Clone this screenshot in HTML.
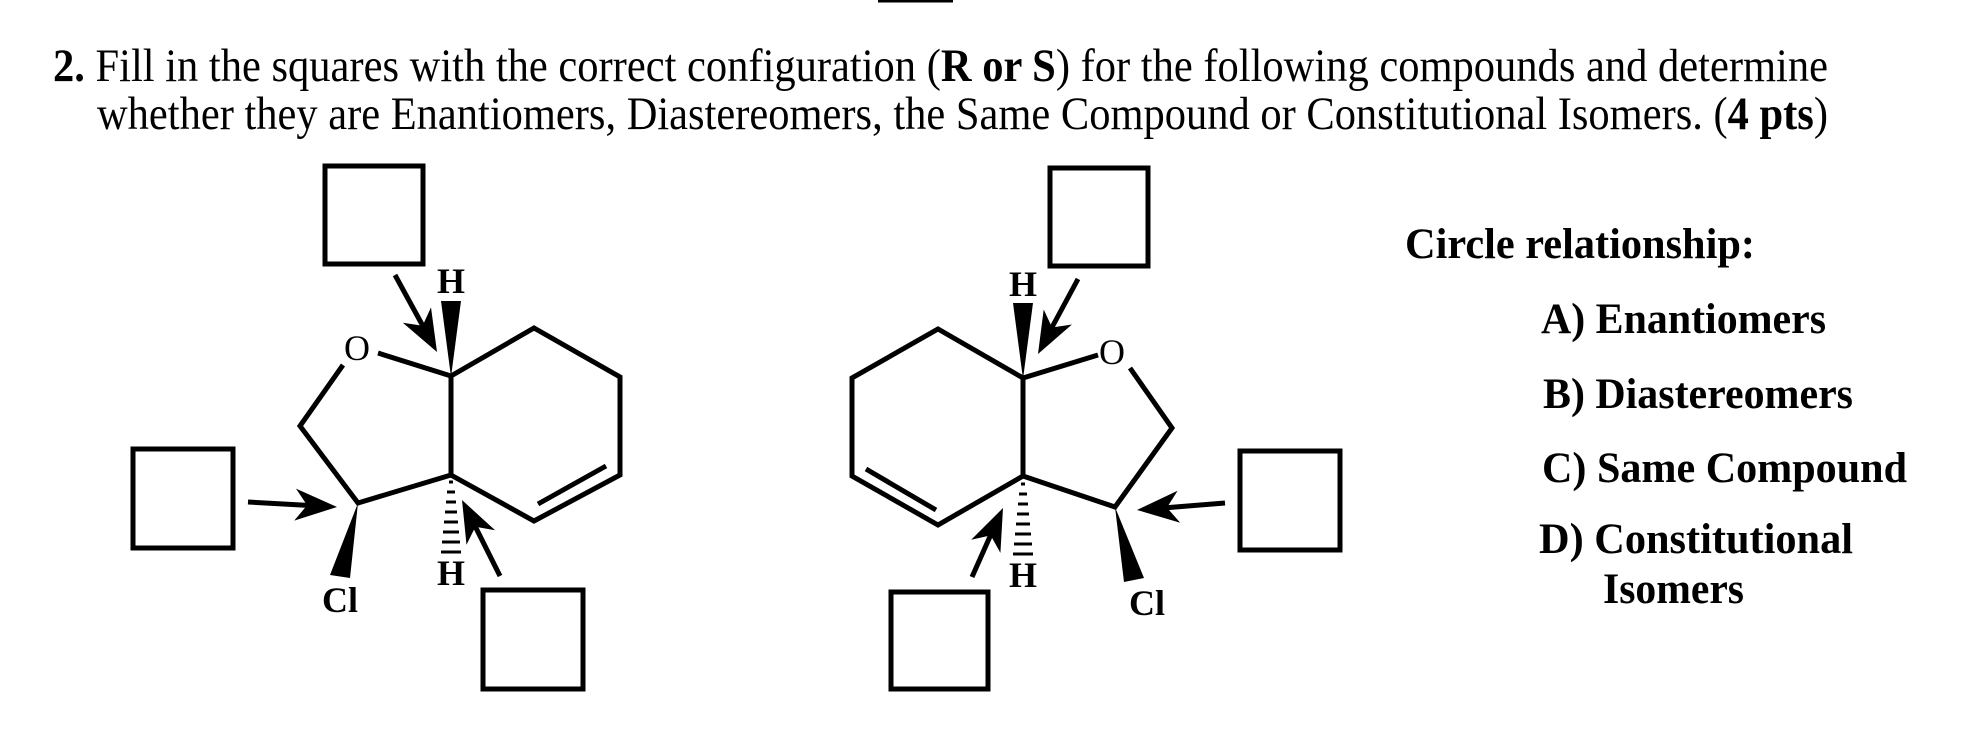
<!DOCTYPE html>
<html><head><meta charset="utf-8"><style>
html,body{margin:0;padding:0;background:#fff;}
svg{display:block;}
text{font-family:"Liberation Serif",serif;fill:#000;}
</style></head><body>
<svg width="1962" height="748" viewBox="0 0 1962 748" xmlns="http://www.w3.org/2000/svg">
<line x1="878" y1="1" x2="953" y2="1" stroke="#000" stroke-width="3"/>
<text x="53" y="81" font-size="47" textLength="1775" lengthAdjust="spacingAndGlyphs"><tspan font-weight="bold">2.</tspan> Fill in the squares with the correct configuration (<tspan font-weight="bold">R or S</tspan>) for the following compounds and determine</text>
<text x="97" y="129" font-size="47" textLength="1731" lengthAdjust="spacingAndGlyphs">whether they are Enantiomers, Diastereomers, the Same Compound or Constitutional Isomers. (<tspan font-weight="bold">4 pts</tspan>)</text>

<g fill="none" stroke="#000" stroke-width="5" stroke-linejoin="miter">
<rect x="325" y="166" width="98" height="98"/>
<rect x="133" y="449" width="100" height="99"/>
<rect x="483" y="590" width="100" height="99"/>
<rect x="1050" y="168" width="98" height="98"/>
<rect x="1240" y="451" width="100" height="99"/>
<rect x="891" y="592" width="97" height="97"/>
<polyline points="451,376 534,328 620,377 620,475 534,521 451,475 451,376"/>
<line x1="606" y1="466" x2="538" y2="504"/>
<polyline points="378,353 451,376"/>
<polyline points="343,365 300,426 358,503 451,475"/>
<polyline points="1023,378 938,329 852,378 852,476 938,525 1023,476 1023,378"/>
<line x1="866" y1="469" x2="936" y2="510"/>
<polyline points="1098,355 1023,378"/>
<polyline points="1130,368 1172,428 1115,507 1023,476"/>
</g>
<g fill="none" stroke="#000" stroke-width="5" stroke-linecap="butt">
<line x1="395" y1="275" x2="424" y2="328"/>
<line x1="248" y1="502" x2="310" y2="505.5"/>
<line x1="500" y1="576" x2="474" y2="524"/>
<line x1="1078" y1="279" x2="1050" y2="331"/>
<line x1="1225" y1="503" x2="1163" y2="508"/>
<line x1="972" y1="577" x2="992" y2="532"/>
</g>
<g fill="#000">
<polygon points="437,352 402.8,322.8 422.6,325.7 431,307.4"/>
<polygon points="337,507 294.2,520.6 307.1,505.3 296,488.6"/>
<polygon points="462,500 495.1,530.3 475.4,526.8 466.5,544.7"/>
<polygon points="1038,354 1043.7,309.5 1052.1,327.5 1071.9,324.5"/>
<polygon points="1137,510 1177.6,490.7 1166.9,507.6 1180.2,522.7"/>
<polygon points="1003,508 1000.4,552.9 990.7,535.4 971.2,539.7"/>
<polygon points="451,377 441,301 461,301"/>
<polygon points="1023,379 1013,303 1033,303"/>
<polygon points="358,503 330,575 350,578"/>
<polygon points="1115,507 1124,582 1144,578"/>
</g>
<g stroke="#000" stroke-width="3">
<line x1="449" y1="482" x2="453" y2="482"/>
<line x1="447" y1="492" x2="455" y2="492"/>
<line x1="446" y1="502" x2="456" y2="502"/>
<line x1="445" y1="512" x2="457" y2="512"/>
<line x1="444" y1="522" x2="458" y2="522"/>
<line x1="443" y1="532" x2="459" y2="532"/>
<line x1="442" y1="542" x2="460" y2="542"/>
<line x1="441" y1="552" x2="461" y2="552"/>
<line x1="1021" y1="484" x2="1025" y2="484"/>
<line x1="1019" y1="494" x2="1027" y2="494"/>
<line x1="1018" y1="504" x2="1028" y2="504"/>
<line x1="1017" y1="514" x2="1029" y2="514"/>
<line x1="1016" y1="524" x2="1030" y2="524"/>
<line x1="1015" y1="534" x2="1031" y2="534"/>
<line x1="1014" y1="544" x2="1032" y2="544"/>
<line x1="1013" y1="554" x2="1033" y2="554"/>
</g>
<g font-size="36" font-weight="bold" text-anchor="middle">
<text x="451" y="293">H</text>
<text x="451" y="585">H</text>
<text x="340" y="612">Cl</text>
<text x="1023" y="296">H</text>
<text x="1023" y="587">H</text>
<text x="1147" y="615">Cl</text>
</g>
<g font-size="36" text-anchor="middle">
<text x="357" y="360">O</text>
<text x="1112" y="364">O</text>
</g>
<g font-size="43" font-weight="bold">
<text x="1405" y="258" textLength="350" lengthAdjust="spacingAndGlyphs">Circle relationship:</text>
<text x="1541" y="333" textLength="285" lengthAdjust="spacingAndGlyphs">A) Enantiomers</text>
<text x="1543" y="408" textLength="310" lengthAdjust="spacingAndGlyphs">B) Diastereomers</text>
<text x="1542" y="482" textLength="365" lengthAdjust="spacingAndGlyphs">C) Same Compound</text>
<text x="1539" y="553" textLength="314" lengthAdjust="spacingAndGlyphs">D) Constitutional</text>
<text x="1603" y="603" textLength="141" lengthAdjust="spacingAndGlyphs">Isomers</text>
</g>
</svg>
</body></html>
